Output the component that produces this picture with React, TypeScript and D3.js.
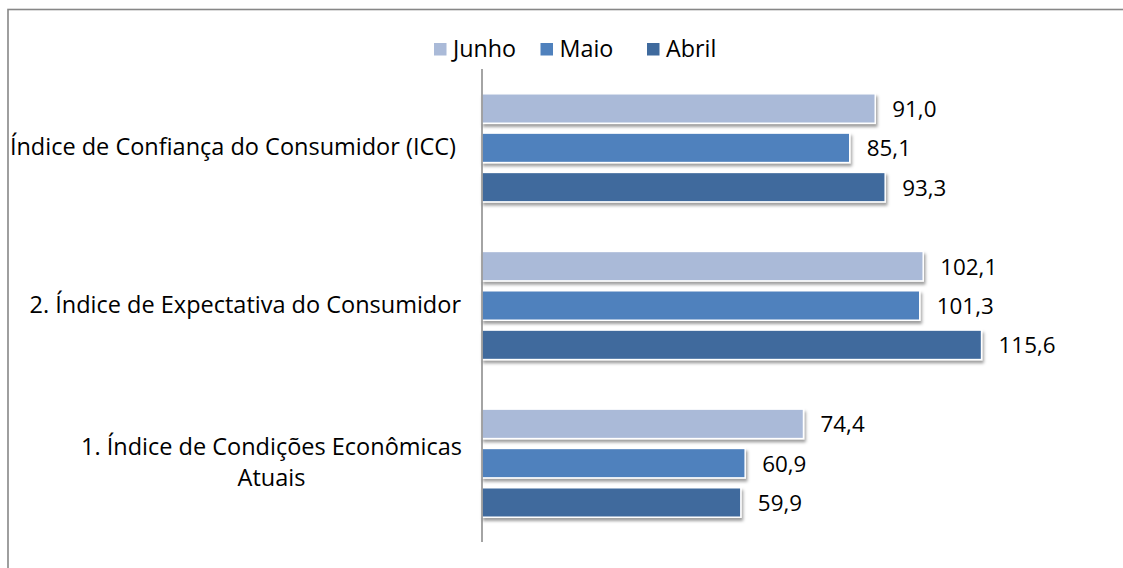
import React, { useEffect, useRef } from "react";
import * as d3 from "d3";

const categories = [
  "Índice de Confiança do Consumidor (ICC)",
  "2. Índice de Expectativa do Consumidor",
  "1. Índice de Condições Econômicas\nAtuais",
];
const seriesNames = ["Junho", "Maio", "Abril"];
const junho = [91.0, 102.1, 74.4];
const maio = [85.1, 101.3, 60.9];
const abril = [93.3, 115.6, 59.9];
const seriesColors = ["#AABAD8", "#4F81BD", "#3F6A9D"];

const W = 1123;
const H = 568;
const FONT = "'Open Sans', sans-serif";
const labelRightEdges = [456, 461, 462];

export default function App() {
  const ref = useRef<SVGSVGElement>(null);

  useEffect(() => {
    const svg = d3.select(ref.current);
    svg.selectAll("*").remove();

    const defs = svg.append("defs");
    const f = defs
      .append("filter")
      .attr("id", "shadow")
      .attr("x", "-10%")
      .attr("y", "-30%")
      .attr("width", "130%")
      .attr("height", "190%");
    f.append("feDropShadow")
      .attr("dx", 1.5)
      .attr("dy", 3)
      .attr("stdDeviation", 1.8)
      .attr("flood-color", "#000")
      .attr("flood-opacity", 0.38);

    // frame
    svg
      .append("rect")
      .attr("x", 8)
      .attr("y", 9.5)
      .attr("width", 1300)
      .attr("height", 800)
      .attr("fill", "none")
      .attr("stroke", "#878787")
      .attr("stroke-width", 1.6);

    const plotLeft = 482;
    const plotRight = 1087;
    const plotTop = 69;
    const plotBottom = 542;

    const x = d3.scaleLinear().domain([0, 140]).range([plotLeft, plotRight]);
    const y = d3
      .scaleBand<string>()
      .domain(categories)
      .range([plotTop, plotBottom])
      .paddingInner(0)
      .paddingOuter(0);
    const ySub = d3
      .scaleBand<string>()
      .domain(seriesNames)
      .range([0, y.bandwidth()])
      .paddingInner(0.25)
      .paddingOuter(0.63);

    const seriesVals = [junho, maio, abril];

    const g = svg.append("g");
    seriesNames.forEach((s, si) => {
      categories.forEach((c, ci) => {
        const v = seriesVals[si][ci];
        const by = (y(c) as number) + (ySub(s) as number);
        g.append("rect")
          .attr("x", x(0))
          .attr("y", by)
          .attr("width", x(v) - x(0))
          .attr("height", ySub.bandwidth())
          .attr("fill", seriesColors[si])
          .attr("stroke", "#fff")
          .attr("stroke-width", 1.5)
          .attr("filter", "url(#shadow)");
        g.append("text")
          .attr("x", x(v) + 17)
          .attr("y", by + ySub.bandwidth() / 2)
          .attr("dominant-baseline", "central")
          .attr("font-family", FONT)
          .attr("font-size", 22.4)
          .attr("fill", "#000")
          .text(v.toFixed(1).replace(".", ","));
      });
    });

    // axis line
    svg
      .append("line")
      .attr("x1", plotLeft)
      .attr("x2", plotLeft)
      .attr("y1", plotTop)
      .attr("y2", plotBottom)
      .attr("stroke", "#868686")
      .attr("stroke-width", 1.5);

    // category labels
    const lineH = 31;
    categories.forEach((c, ci) => {
      const lines = c.split("\n");
      const cy = (y(c) as number) + y.bandwidth() / 2 - 2;
      const t = svg
        .append("text")
        .attr("font-family", FONT)
        .attr("font-size", 23.5)
        .attr("fill", "#000")
        .attr("text-anchor", "middle");
      const spans = lines.map((ln, i) =>
        t
          .append("tspan")
          .attr("y", cy + (i - (lines.length - 1) / 2) * lineH)
          .attr("dominant-baseline", "central")
          .text(ln)
      );
      let maxW = 0;
      spans.forEach((sp) => {
        const n = sp.node() as SVGTSpanElement;
        maxW = Math.max(maxW, n.getComputedTextLength());
      });
      spans.forEach((sp) => sp.attr("x", labelRightEdges[ci] - maxW / 2));
    });

    // legend
    const legendX = 434;
    const itemW = 106.5;
    const legendY = 49;
    seriesNames.forEach((s, i) => {
      const lx = legendX + i * itemW;
      svg
        .append("rect")
        .attr("x", lx)
        .attr("y", legendY - 6)
        .attr("width", 12.5)
        .attr("height", 12.5)
        .attr("fill", seriesColors[i]);
      svg
        .append("text")
        .attr("x", lx + 19)
        .attr("y", legendY - 1)
        .attr("dominant-baseline", "central")
        .attr("font-family", FONT)
        .attr("font-size", 23.3)
        .attr("fill", "#000")
        .text(s);
    });
  }, []);

  return (
    <svg
      ref={ref}
      width={W}
      height={H}
      style={{ position: "absolute", left: 0, top: 0, background: "#fff" }}
    />
  );
}
